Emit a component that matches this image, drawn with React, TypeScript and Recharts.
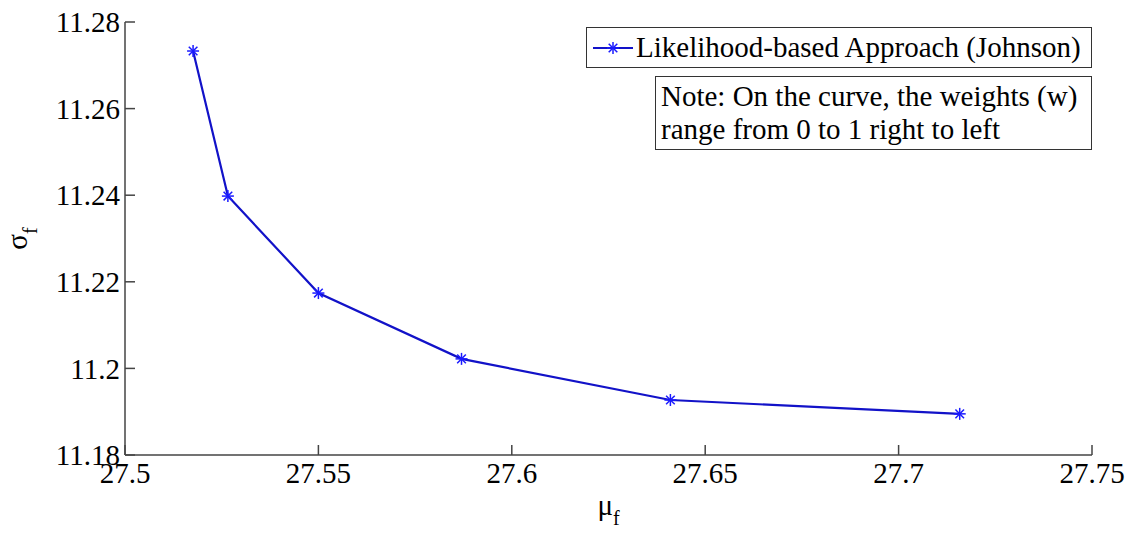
import { LineChart, Line, XAxis, YAxis, Legend, Label } from 'recharts'

// weighted frontier: mean (mu_f) vs standard deviation (sigma_f)
const muValues = [27.5176, 27.5266, 27.55, 27.587, 27.641, 27.7158]
const sigmaValues = [11.2733, 11.2398, 11.2174, 11.2022, 11.1927, 11.1895]

const muTicks = [27.5, 27.55, 27.6, 27.65, 27.7, 27.75]
const sigmaTicks = [11.18, 11.2, 11.22, 11.24, 11.26, 11.28]

const seriesName = 'Likelihood-based Approach (Johnson)'
const noteLines = ['Note: On the curve, the weights (w)', 'range from 0 to 1 right to left']

const data = muValues.map((mu, i) => ({ mu, sigma: sigmaValues[i] }))

const serif = "'Times New Roman', 'Liberation Serif', 'DejaVu Serif', serif"
const lineColor = '#1212c8'
const markColor = '#1a1aff'
const axisColor = '#444'
const tickStyle = { fontSize: 29, fill: '#000', fontFamily: serif }

function Asterisk({ cx, cy, r = 6 }: { cx: number; cy: number; r?: number }) {
  const d = r * 0.72
  return (
    <g stroke={markColor} strokeWidth={1.5}>
      <line x1={cx - r} y1={cy} x2={cx + r} y2={cy} />
      <line x1={cx} y1={cy - r} x2={cx} y2={cy + r} />
      <line x1={cx - d} y1={cy - d} x2={cx + d} y2={cy + d} />
      <line x1={cx - d} y1={cy + d} x2={cx + d} y2={cy - d} />
    </g>
  )
}

function MuLabel({ viewBox }: any) {
  const cx = viewBox.x + viewBox.width / 2
  return (
    <text x={cx} y={515} textAnchor="middle" style={{ fontFamily: serif }} fontSize={29} fill="#000">
      μ<tspan dy={10} fontSize={20}>f</tspan>
    </text>
  )
}

function SigmaLabel({ viewBox }: any) {
  const cy = viewBox.y + viewBox.height / 2
  const x = 27
  return (
    <text
      x={x}
      y={cy}
      transform={`rotate(-90, ${x}, ${cy})`}
      textAnchor="middle"
      style={{ fontFamily: serif }}
      fontSize={29}
      fill="#000"
    >
      σ<tspan dy={10} fontSize={20}>f</tspan>
    </text>
  )
}

function LegendBoxes() {
  return (
    <div style={{ position: 'relative', width: 506, height: 124, fontFamily: serif, color: '#000' }}>
      <div
        style={{
          position: 'absolute',
          left: 0,
          top: 0,
          width: 506,
          height: 41,
          boxSizing: 'border-box',
          border: '1px solid #333',
          background: '#fff',
          display: 'flex',
          alignItems: 'center',
        }}
      >
        <svg width={49} height={39} style={{ flex: 'none' }}>
          <line x1={6} y1={20} x2={46} y2={20} stroke={lineColor} strokeWidth={2} />
          <Asterisk cx={26} cy={20} />
        </svg>
        <span style={{ fontSize: 29, whiteSpace: 'nowrap', lineHeight: '39px' }}>{seriesName}</span>
      </div>
      <div
        style={{
          position: 'absolute',
          left: 69,
          top: 49,
          width: 437,
          height: 74,
          boxSizing: 'border-box',
          border: '1px solid #333',
          background: '#fff',
          fontSize: 29,
          lineHeight: '33px',
          padding: '3px 0 0 5px',
          whiteSpace: 'nowrap',
        }}
      >
        {noteLines.map((t) => (
          <div key={t}>{t}</div>
        ))}
      </div>
    </div>
  )
}

export default function App() {
  return (
    <div style={{ position: 'absolute', left: 0, top: 0, background: '#fff', fontFamily: serif }}>
      <LineChart
        width={1137}
        height={533}
        data={data}
        margin={{ top: 22, right: 45, bottom: 48, left: 65 }}
        style={{ fontFamily: serif }}
      >
        <XAxis
          dataKey="mu"
          type="number"
          domain={[27.5, 27.75]}
          ticks={muTicks}
          tick={tickStyle}
          tickSize={-10}
          tickMargin={17}
          stroke={axisColor}
          strokeWidth={1.5}
          height={30}
        >
          <Label content={MuLabel} />
        </XAxis>
        <XAxis
          xAxisId="top"
          orientation="top"
          type="number"
          domain={[27.5, 27.75]}
          ticks={muTicks}
          tickFormatter={() => ''}
          tickSize={-10}
          stroke="#222"
          strokeWidth={1.5}
          height={0}
        />
        <YAxis
          type="number"
          domain={[11.18, 11.28]}
          ticks={sigmaTicks}
          tick={tickStyle}
          tickSize={-10}
          tickMargin={15}
          stroke={axisColor}
          strokeWidth={1.5}
          width={60}
        >
          <Label content={SigmaLabel} />
        </YAxis>
        <YAxis
          yAxisId="right"
          orientation="right"
          type="number"
          domain={[11.18, 11.28]}
          ticks={sigmaTicks}
          tickFormatter={() => ''}
          tickSize={-10}
          stroke="#222"
          strokeWidth={1.5}
          width={0}
        />
        <Legend
          layout="horizontal"
          verticalAlign="middle"
          align="center"
          wrapperStyle={{ top: 27, left: 586, width: 506 }}
          content={LegendBoxes}
        />
        <Line
          dataKey="sigma"
          name={seriesName}
          stroke={lineColor}
          strokeWidth={2.2}
          dot={(p: any) => <Asterisk key={p.index} cx={p.cx} cy={p.cy} />}
          activeDot={false}
          isAnimationActive={false}
        />
      </LineChart>
    </div>
  )
}
